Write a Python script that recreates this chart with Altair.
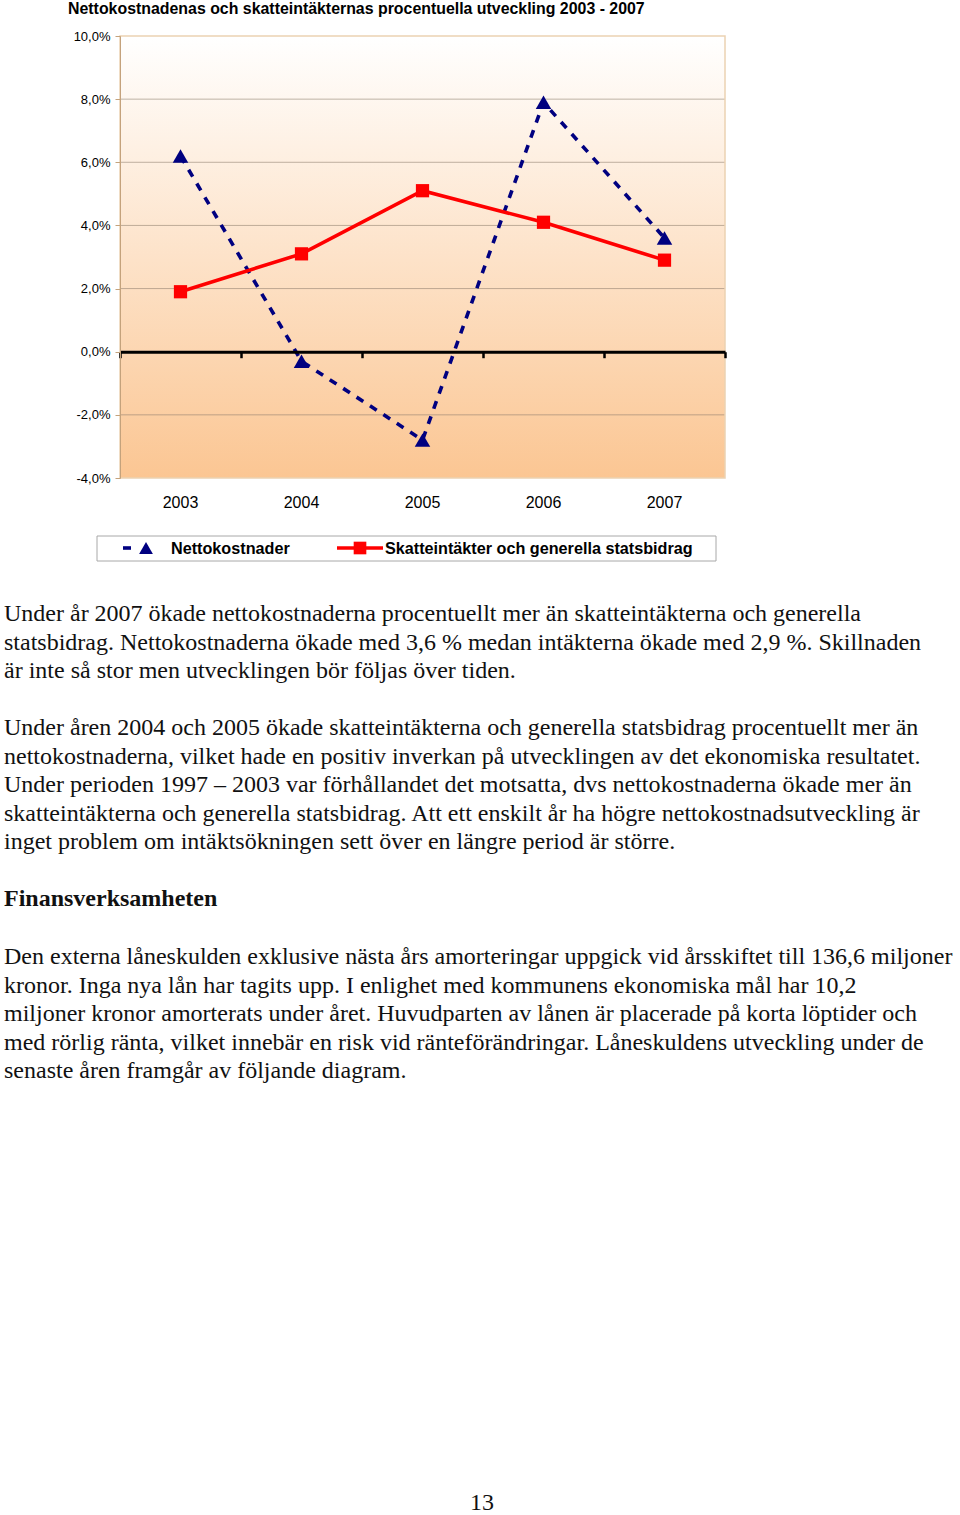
import altair as alt
import pandas as pd

# ---------------- data ----------------
years = ["2003", "2004", "2005", "2006", "2007"]
nettokostnader = [6.2, -0.3, -2.8, 7.9, 3.6]
skatteintakter = [1.9, 3.1, 5.1, 4.1, 2.9]
y_ticks = [-4, -2, 0, 2, 4, 6, 8, 10]
grid_values = [-2, 2, 4, 6, 8]

chart_title = "Nettokostnadenas och skatteintäkternas procentuella utveckling 2003 - 2007"
legend_labels = ["Nettokostnader", "Skatteintäkter och generella statsbidrag"]

para1 = [
    "Under år 2007 ökade nettokostnaderna procentuellt mer än skatteintäkterna och generella",
    "statsbidrag. Nettokostnaderna ökade med 3,6 % medan intäkterna ökade med 2,9 %. Skillnaden",
    "är inte så stor men utvecklingen bör följas över tiden.",
]
para2 = [
    "Under åren 2004 och 2005 ökade skatteintäkterna och generella statsbidrag procentuellt mer än",
    "nettokostnaderna, vilket hade en positiv inverkan på utvecklingen av det ekonomiska resultatet.",
    "Under perioden 1997 – 2003 var förhållandet det motsatta, dvs nettokostnaderna ökade mer än",
    "skatteintäkterna och generella statsbidrag. Att ett enskilt år ha högre nettokostnadsutveckling är",
    "inget problem om intäktsökningen sett över en längre period är större.",
]
heading = "Finansverksamheten"
para3 = [
    "Den externa låneskulden exklusive nästa års amorteringar uppgick vid årsskiftet till 136,6 miljoner",
    "kronor. Inga nya lån har tagits upp. I enlighet med kommunens ekonomiska mål har 10,2",
    "miljoner kronor amorterats under året. Huvudparten av lånen är placerade på korta löptider och",
    "med rörlig ränta, vilket innebär en risk vid ränteförändringar. Låneskuldens utveckling under de",
    "senaste åren framgår av följande diagram.",
]
page_number = "13"

# ---------------- styling ----------------
W, H = 605, 442
NAVY = "#000080"
RED = "#FF0000"
SANS = "Liberation Sans"
SERIF = "Liberation Serif"
BODY_SIZE = 24
LINE_H = 28.6

df = pd.DataFrame({"year": years, "netto": nettokostnader, "skatt": skatteintakter})

xscale = alt.Scale(type="band", paddingInner=0, paddingOuter=0, domain=years)
yscale = alt.Scale(domain=[-4, 10], nice=False, zero=False)
pct_expr = "replace(replace(format(datum.value, '.1f'), '.', ','), '\u2212', '-') + '%'"
zero_offset = -(H - H * 10 / 14)

one = pd.DataFrame({"a": [0]})

bg = alt.Chart(one).mark_rect(
    fill=alt.LinearGradient(
        gradient="linear",
        stops=[alt.GradientStop(offset=0, color="#FFFFFF"),
               alt.GradientStop(offset=1, color="#FBC693")],
        x1=0, x2=0, y1=0, y2=1,
    )
).encode(x=alt.value(0), x2=alt.value(W), y=alt.value(0), y2=alt.value(H))

grid = alt.Chart(pd.DataFrame({"v": grid_values})).mark_rule(
    color="#8a7a6a", opacity=0.55, strokeWidth=1
).encode(
    y=alt.Y("v:Q", scale=yscale, axis=alt.Axis(
        title=None, values=y_ticks, labelExpr=pct_expr, labelFont=SANS,
        labelFontSize=13, labelColor="black", labelPadding=5,
        domainColor="#C4A27C", tickColor="#C4A27C", tickSize=5,
        grid=False, zindex=1)),
    x=alt.value(0), x2=alt.value(W),
)

netto_line = alt.Chart(df).mark_line(
    color=NAVY, strokeWidth=3.6, strokeDash=[8, 8]
).encode(
    x=alt.X("year:N", scale=xscale, axis=alt.Axis(
        title=None, labelAngle=0, labelFont=SANS, labelFontSize=16,
        labelColor="black", labelPadding=16, domain=False, ticks=False,
        grid=False, zindex=1)),
    y=alt.Y("netto:Q", scale=yscale, axis=None),
)

netto_pts = alt.Chart(df).mark_point(
    shape="triangle-up", filled=True, size=240, color=NAVY, opacity=1
).encode(
    x=alt.X("year:N", scale=xscale, axis=None),
    y=alt.Y("netto:Q", scale=yscale, axis=None),
)

skatt_line = alt.Chart(df).mark_line(color=RED, strokeWidth=3.6).encode(
    x=alt.X("year:N", scale=xscale, axis=alt.Axis(
        title=None, labels=False, orient="bottom", offset=zero_offset,
        domainColor="black", domainWidth=3, tickColor="black", tickWidth=2.5,
        tickSize=6, tickBand="extent", grid=False, zindex=1)),
    y=alt.Y("skatt:Q", scale=yscale, axis=None),
)

skatt_pts = alt.Chart(df).mark_point(
    shape="square", filled=True, size=175, color=RED, opacity=1
).encode(
    x=alt.X("year:N", scale=xscale, axis=None),
    y=alt.Y("skatt:Q", scale=yscale, axis=None),
)

border = alt.Chart(one).mark_rect(
    fillOpacity=0, stroke="#EBD2B2", strokeWidth=1.5
).encode(x=alt.value(0), x2=alt.value(W), y=alt.value(0), y2=alt.value(H))

title_mark = alt.Chart(alt.Data(values=[{"t": chart_title}])).mark_text(
    align="left", baseline="middle", font=SANS, fontSize=15.9, fontWeight="bold",
    color="black"
).encode(x=alt.value(-52), y=alt.value(-27), text="t:N")

# ---------------- legend ----------------
leg_box = alt.Chart(one).mark_rect(
    fill="white", stroke="#A8A8A8", strokeWidth=1
).encode(x=alt.value(-23), x2=alt.value(596), y=alt.value(500), y2=alt.value(525))

leg_dash = alt.Chart(one).mark_rule(color=NAVY, strokeWidth=3.6).encode(
    x=alt.value(3), x2=alt.value(11), y=alt.value(512))
leg_tri = alt.Chart(one).mark_point(
    shape="triangle-up", filled=True, size=190, color=NAVY, opacity=1
).encode(x=alt.value(26), y=alt.value(512))
leg_text1 = alt.Chart(alt.Data(values=[{"t": legend_labels[0]}])).mark_text(
    align="left", baseline="middle", font=SANS, fontSize=16.2, fontWeight="bold",
    color="black"
).encode(x=alt.value(51), y=alt.value(513), text="t:N")

leg_red = alt.Chart(one).mark_rule(color=RED, strokeWidth=3.6).encode(
    x=alt.value(217), x2=alt.value(263), y=alt.value(512))
leg_sq = alt.Chart(one).mark_point(
    shape="square", filled=True, size=160, color=RED, opacity=1
).encode(x=alt.value(240), y=alt.value(512))
leg_text2 = alt.Chart(alt.Data(values=[{"t": legend_labels[1]}])).mark_text(
    align="left", baseline="middle", font=SANS, fontSize=16.2, fontWeight="bold",
    color="black"
).encode(x=alt.value(265), y=alt.value(513), text="t:N")

# ---------------- body text ----------------
def block(lines, y, bold=False, size=BODY_SIZE, x=-116, align="left"):
    return alt.Chart(alt.Data(values=[{"t": "\n".join(lines)}])).mark_text(
        align=align, baseline="alphabetic", lineBreak="\n", lineHeight=LINE_H,
        font=SERIF, fontSize=size, fontWeight="bold" if bold else "normal",
        color="#111111"
    ).encode(x=alt.value(x), y=alt.value(y), text="t:N")

p1 = block(para1, 585)
p2 = block(para2, 699)
hd = block([heading], 870, bold=True)
p3 = block(para3, 928)
pg = block([page_number], 1474, x=362, align="center")

chart = alt.layer(
    bg, grid, netto_line, netto_pts, skatt_line, skatt_pts, border, title_mark,
    leg_box, leg_dash, leg_tri, leg_text1, leg_red, leg_sq, leg_text2,
    p1, p2, hd, p3, pg,
).resolve_axis(x="independent", y="independent").properties(
    width=W, height=H,
    padding={"left": 120, "top": 36, "right": 235, "bottom": 1037},
    autosize=alt.AutoSizeParams(type="none"),
    background="white",
).configure_view(stroke=None)

chart.save("out.html", embed_options={"renderer": "svg", "actions": False})
